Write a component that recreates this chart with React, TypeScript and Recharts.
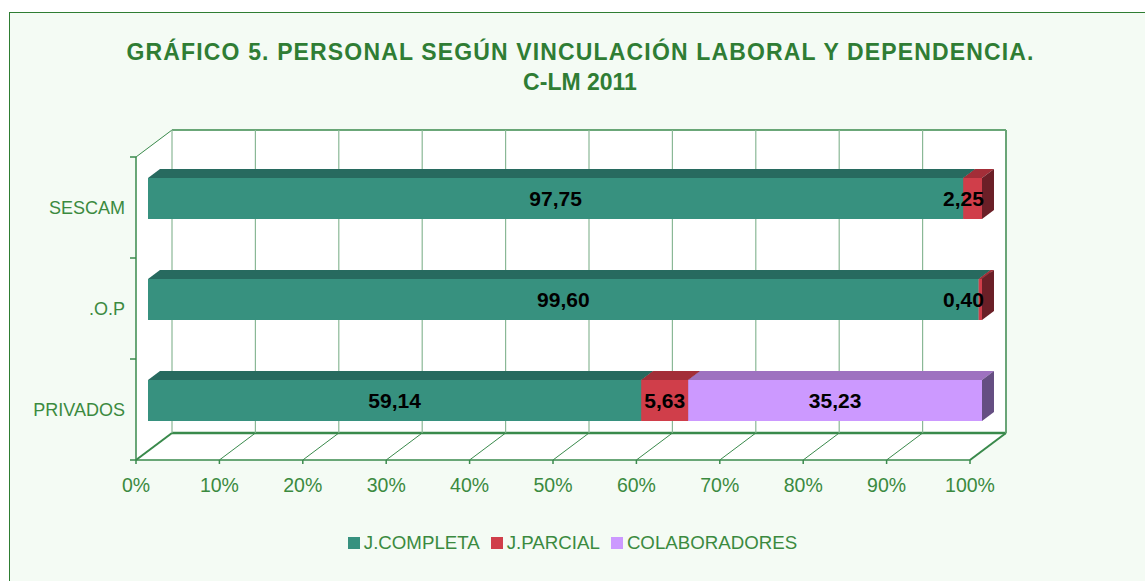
import React from "react";
import { BarChart, Bar, XAxis, YAxis, CartesianGrid, Legend, LabelList } from "recharts";

const CATEGORIES = ["SESCAM", ".O.P", "PRIVADOS"];
const COMPLETA = [97.75, 99.6, 59.14];
const PARCIAL = [2.25, 0.4, 5.63];
const COLABORADORES = [null, null, 35.23];
const X_TICKS = [0, 10, 20, 30, 40, 50, 60, 70, 80, 90, 100];

const SERIES = [
  { key: "completa", name: "J.COMPLETA", front: "#37917f", top: "#276a5f", side: "#1f5a50" },
  { key: "parcial", name: "J.PARCIAL", front: "#d03e4a", top: "#a32e38", side: "#6b1f27" },
  { key: "colab", name: "COLABORADORES", front: "#cc99ff", top: "#9e72c0", side: "#654e82" },
];

const data = CATEGORIES.map((name, i) => ({
  name,
  completa: COMPLETA[i],
  parcial: PARCIAL[i],
  colab: COLABORADORES[i],
}));

// layout (bars sit one third into the depth of the 3D box)
const W = 1145;
const H = 581;
const PLOT_LEFT = 148;
const PLOT_RIGHT = 982;
const PLOT_TOP = 148;
const PLOT_BOTTOM = 451;
const DX = 12;
const DY = 9;
const FRONT_LEFT = PLOT_LEFT - DX;
const FRONT_RIGHT = PLOT_RIGHT - DX;
const FRONT_TOP = PLOT_TOP + DY;
const FRONT_BOTTOM = PLOT_BOTTOM + DY;
const BACK_LEFT = PLOT_LEFT + 2 * DX;
const BACK_RIGHT = PLOT_RIGHT + 2 * DX;
const BACK_TOP = PLOT_TOP - 2 * DY;
const BACK_BOTTOM = PLOT_BOTTOM - 2 * DY;
const BAND = (PLOT_BOTTOM - PLOT_TOP) / CATEGORIES.length;

const FONT = "'Liberation Sans', Arial, sans-serif";
const TEXT_GREEN = "#3b8a3f";
const TITLE_GREEN = "#2f7d34";
const AXIS = "#3a8a4c";
const GRID = "#8ab896";

function makeShape(s: (typeof SERIES)[number]) {
  return (p: any) => {
    const { x, y, width, height } = p;
    if (!width || width < 0.5) return <g />;
    return (
      <g>
        <polygon
          points={`${x},${y} ${x + width},${y} ${x + width + DX},${y - DY} ${x + DX},${y - DY}`}
          fill={s.top}
        />
        <polygon
          points={`${x + width},${y} ${x + width + DX},${y - DY} ${x + width + DX},${y + height - DY} ${x + width},${y + height}`}
          fill={s.side}
        />
        <rect x={x} y={y} width={width} height={height} fill={s.front} />
      </g>
    );
  };
}

const renderValue = (p: any) => {
  const { x, y, width, height, value } = p;
  if (value == null || value === 0) return null;
  const end = x + width;
  const cx = Math.min(x + width / 2, end + 2 - 20.5);
  return (
    <text
      x={cx}
      y={y + height / 2}
      textAnchor="middle"
      dominantBaseline="central"
      fontFamily={FONT}
      fontWeight="bold"
      fontSize={21}
      fill="#000"
    >
      {Number(value).toFixed(2).replace(".", ",")}
    </text>
  );
};

const XTick = (p: any) => {
  const { x, payload } = p;
  const fx = x - DX;
  return (
    <g>
      <line x1={fx} y1={FRONT_BOTTOM} x2={x + 2 * DX} y2={BACK_BOTTOM} stroke={AXIS} strokeWidth={1} />
      <line x1={fx} y1={FRONT_BOTTOM} x2={fx} y2={FRONT_BOTTOM + 4} stroke={AXIS} strokeWidth={1.5} />
      <text
        x={fx}
        y={485}
        textAnchor="middle"
        dominantBaseline="central"
        fontFamily={FONT}
        fontSize={19.5}
        fill={TEXT_GREEN}
      >
        {payload.value}%
      </text>
    </g>
  );
};

const YTick = (p: any) => {
  const { y, payload, index } = p;
  const fy = y + DY;
  return (
    <g>
      <line x1={FRONT_LEFT - 6} y1={fy - BAND / 2} x2={FRONT_LEFT} y2={fy - BAND / 2} stroke={AXIS} strokeWidth={1.5} />
      {index === CATEGORIES.length - 1 && (
        <line x1={FRONT_LEFT - 6} y1={fy + BAND / 2} x2={FRONT_LEFT} y2={fy + BAND / 2} stroke={AXIS} strokeWidth={1.5} />
      )}
      <text
        x={FRONT_LEFT - 11}
        y={fy}
        textAnchor="end"
        dominantBaseline="central"
        fontFamily={FONT}
        fontSize={18}
        fill={TEXT_GREEN}
      >
        {payload.value}
      </text>
    </g>
  );
};

const renderLegend = () => (
  <div
    style={{
      height: 30,
      display: "flex",
      justifyContent: "center",
      alignItems: "center",
      fontFamily: FONT,
      fontSize: 18.7,
      color: TEXT_GREEN,
      paddingLeft: 11,
    }}
  >
    {SERIES.map((s) => (
      <div key={s.key} style={{ display: "flex", alignItems: "center", marginRight: 11 }}>
        <span style={{ width: 12, height: 12, background: s.front, marginRight: 4, display: "inline-block" }} />
        <span>{s.name}</span>
      </div>
    ))}
  </div>
);

const gridLine = (p: any) => (
  <line
    key={`g-${p.index}`}
    x1={p.x1 + 2 * DX}
    y1={p.y1 - 2 * DY}
    x2={p.x2 + 2 * DX}
    y2={p.y2 - 2 * DY}
    stroke={GRID}
    strokeWidth={1.2}
  />
);

export default function App() {
  return (
    <div style={{ position: "fixed", left: 0, top: 0, width: W, height: H, overflow: "hidden", background: "#fff" }}>
      <div
        style={{
          position: "absolute",
          left: 9,
          top: 12,
          width: W,
          height: H,
          border: "1px solid #2e7d32",
          background: "#f4fbf4",
        }}
      />
      <svg width={W} height={H} style={{ position: "absolute", left: 0, top: 0 }}>
        <text
          x={580}
          y={59.5}
          textAnchor="middle"
          fontFamily={FONT}
          fontWeight="bold"
          fontSize={23}
          fill={TITLE_GREEN}
          textLength={907}
          lengthAdjust="spacing"
        >
          GRÁFICO 5. PERSONAL SEGÚN VINCULACIÓN LABORAL Y DEPENDENCIA.
        </text>
        <text x={580} y={90} textAnchor="middle" fontFamily={FONT} fontWeight="bold" fontSize={23} fill={TITLE_GREEN}>
          C-LM 2011
        </text>
        <polygon
          points={`${FRONT_LEFT},${FRONT_TOP} ${BACK_LEFT},${BACK_TOP} ${BACK_LEFT},${BACK_BOTTOM} ${FRONT_LEFT},${FRONT_BOTTOM}`}
          fill="#fff"
        />
        <rect x={BACK_LEFT} y={BACK_TOP} width={BACK_RIGHT - BACK_LEFT} height={BACK_BOTTOM - BACK_TOP} fill="#fff" />
        <polygon
          points={`${FRONT_LEFT},${FRONT_BOTTOM} ${BACK_LEFT},${BACK_BOTTOM} ${BACK_RIGHT},${BACK_BOTTOM} ${FRONT_RIGHT},${FRONT_BOTTOM}`}
          fill="#fff"
        />
        <line x1={FRONT_LEFT} y1={FRONT_TOP} x2={BACK_LEFT} y2={BACK_TOP} stroke={AXIS} strokeWidth={1} />
        <line x1={FRONT_LEFT} y1={FRONT_TOP} x2={FRONT_LEFT} y2={FRONT_BOTTOM} stroke={AXIS} strokeWidth={1.5} />
        <line x1={BACK_LEFT} y1={BACK_TOP} x2={BACK_RIGHT} y2={BACK_TOP} stroke={AXIS} strokeWidth={1.5} />
        <line x1={BACK_RIGHT} y1={BACK_TOP} x2={BACK_RIGHT} y2={BACK_BOTTOM} stroke={AXIS} strokeWidth={2} />
        <line x1={BACK_LEFT} y1={BACK_BOTTOM} x2={BACK_RIGHT} y2={BACK_BOTTOM} stroke={AXIS} strokeWidth={2.5} />
        <line x1={FRONT_LEFT} y1={FRONT_BOTTOM} x2={FRONT_RIGHT} y2={FRONT_BOTTOM} stroke={AXIS} strokeWidth={1.5} />
        <line x1={FRONT_LEFT} y1={FRONT_BOTTOM} x2={BACK_LEFT} y2={BACK_BOTTOM} stroke={AXIS} strokeWidth={2} />
        <line x1={FRONT_RIGHT} y1={FRONT_BOTTOM} x2={BACK_RIGHT} y2={BACK_BOTTOM} stroke={AXIS} strokeWidth={2} />
      </svg>
      <div style={{ position: "absolute", left: 0, top: 0 }}>
        <BarChart
          width={W}
          height={H}
          data={data}
          layout="vertical"
          margin={{ top: PLOT_TOP, right: W - PLOT_RIGHT, left: PLOT_LEFT - 140, bottom: 23 }}
          barSize={41}
        >
          <CartesianGrid horizontal={false} vertical={gridLine} />
          <XAxis
            type="number"
            domain={[0, 100]}
            ticks={X_TICKS}
            axisLine={false}
            tickLine={false}
            height={77}
            tick={XTick}
            interval={0}
          />
          <YAxis type="category" dataKey="name" axisLine={false} tickLine={false} width={140} tick={YTick} />
          <Legend
            verticalAlign="bottom"
            height={30}
            content={renderLegend}
            wrapperStyle={{ left: 0, width: W }}
          />
          {SERIES.map((s) => (
            <Bar key={s.key} dataKey={s.key} name={s.name} stackId="a" shape={makeShape(s)} isAnimationActive={false}>
              <LabelList dataKey={s.key} content={renderValue} />
            </Bar>
          ))}
        </BarChart>
      </div>
    </div>
  );
}
